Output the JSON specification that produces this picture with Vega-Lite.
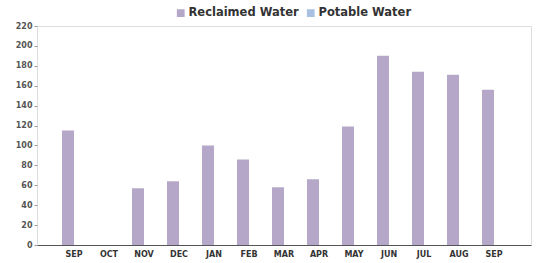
{
  "$schema": "https://vega.github.io/schema/vega-lite/v6.json",
  "width": 494,
  "height": 219,
  "autosize": "none",
  "padding": {"left": 37, "top": 26, "right": 5, "bottom": 18},
  "background": "white",
  "data": {
    "values": [
      {"month": "SEP-2014", "series": "Reclaimed Water", "value": 115},
      {"month": "SEP-2014", "series": "Potable Water", "value": 0},
      {"month": "OCT", "series": "Reclaimed Water", "value": 0},
      {"month": "OCT", "series": "Potable Water", "value": 0},
      {"month": "NOV", "series": "Reclaimed Water", "value": 57},
      {"month": "NOV", "series": "Potable Water", "value": 0},
      {"month": "DEC", "series": "Reclaimed Water", "value": 64},
      {"month": "DEC", "series": "Potable Water", "value": 0},
      {"month": "JAN", "series": "Reclaimed Water", "value": 100},
      {"month": "JAN", "series": "Potable Water", "value": 0},
      {"month": "FEB", "series": "Reclaimed Water", "value": 86},
      {"month": "FEB", "series": "Potable Water", "value": 0},
      {"month": "MAR", "series": "Reclaimed Water", "value": 58},
      {"month": "MAR", "series": "Potable Water", "value": 0},
      {"month": "APR", "series": "Reclaimed Water", "value": 66},
      {"month": "APR", "series": "Potable Water", "value": 0},
      {"month": "MAY", "series": "Reclaimed Water", "value": 119},
      {"month": "MAY", "series": "Potable Water", "value": 0},
      {"month": "JUN", "series": "Reclaimed Water", "value": 190},
      {"month": "JUN", "series": "Potable Water", "value": 0},
      {"month": "JUL", "series": "Reclaimed Water", "value": 174},
      {"month": "JUL", "series": "Potable Water", "value": 0},
      {"month": "AUG", "series": "Reclaimed Water", "value": 171},
      {"month": "AUG", "series": "Potable Water", "value": 0},
      {"month": "SEP-2015", "series": "Reclaimed Water", "value": 156},
      {"month": "SEP-2015", "series": "Potable Water", "value": 0}
    ]
  },
  "mark": {"type": "bar"},
  "encoding": {
    "x": {
      "field": "month",
      "type": "nominal",
      "sort": null,
      "scale": {"paddingInner": 0.314, "paddingOuter": 0.714},
      "axis": {
        "title": null,
        "labelExpr": "slice(datum.value, 0, 3)",
        "labelAngle": 0,
        "labelFont": "DejaVu Sans",
        "labelFontSize": 8,
        "labelFontWeight": "bold",
        "labelColor": "#333333",
        "labelPadding": 5,
        "ticks": false,
        "domainColor": "#555555",
        "domainWidth": 1
      }
    },
    "xOffset": {
      "field": "series",
      "type": "nominal",
      "scale": {"domain": ["Reclaimed Water", "Potable Water"], "paddingInner": 0, "paddingOuter": 0}
    },
    "y": {
      "field": "value",
      "type": "quantitative",
      "scale": {"domain": [0, 220], "nice": false},
      "axis": {
        "title": null,
        "values": [0, 20, 40, 60, 80, 100, 120, 140, 160, 180, 200, 220],
        "labelFont": "DejaVu Sans",
        "labelFontSize": 8,
        "labelFontWeight": "bold",
        "labelColor": "#555555",
        "tickSize": 3,
        "tickColor": "#999999",
        "labelPadding": 2,
        "domain": false,
        "grid": false
      }
    },
    "color": {
      "field": "series",
      "type": "nominal",
      "scale": {"domain": ["Reclaimed Water", "Potable Water"], "range": ["#b4a7c8", "#a8c0e2"]},
      "legend": {
        "title": null,
        "orient": "none",
        "direction": "horizontal",
        "legendX": 138,
        "legendY": -19,
        "symbolType": "square",
        "symbolSize": 60,
        "symbolStrokeWidth": 0,
        "labelFont": "DejaVu Sans",
        "labelFontSize": 11.5,
        "labelFontWeight": "bold",
        "labelColor": "#333333",
        "labelOffset": 2,
        "columnPadding": 6
      }
    }
  },
  "config": {
    "view": {"stroke": "#dddddd", "strokeWidth": 1}
  }
}
